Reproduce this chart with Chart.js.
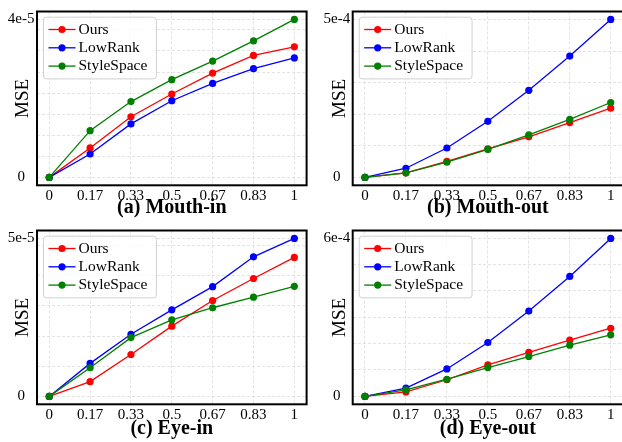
<!DOCTYPE html>
<html>
<head>
<meta charset="utf-8">
<script src="https://cdn.jsdelivr.net/npm/chart.js@4.4.1/dist/chart.umd.min.js"></script>
<style>
  html, body { margin: 0; padding: 0; background: #fff; overflow: hidden; width: 622px; height: 442px; }
  canvas { position: absolute; }
</style>
</head>
<body>
<canvas id="mouthIn" width="311" height="221" style="left:0;top:0"></canvas>
<canvas id="mouthOut" width="316" height="221" style="left:311px;top:0"></canvas>
<canvas id="eyeIn" width="311" height="223" style="left:0;top:219px"></canvas>
<canvas id="eyeOut" width="316" height="223" style="left:311px;top:219px"></canvas>
<script>
// editing strength on the x axis
var weights = ['0', '0.17', '0.33', '0.5', '0.67', '0.83', '1'];
var seriesNames = ['Ours', 'LowRank', 'StyleSpace'];
var seriesColors = ['#ff0000', '#0000ff', '#008000'];

// (a) Mouth-in
var mouthInOurs = [0, 0.70e-5, 1.44e-5, 1.98e-5, 2.475e-5, 2.895e-5, 3.10e-5];
var mouthInLowRank = [0, 0.555e-5, 1.27e-5, 1.82e-5, 2.23e-5, 2.58e-5, 2.835e-5];
var mouthInStyleSpace = [0, 1.11e-5, 1.80e-5, 2.32e-5, 2.76e-5, 3.24e-5, 3.75e-5];

// (b) Mouth-out
var mouthOutOurs = [0, 0.145e-4, 0.51e-4, 0.90e-4, 1.285e-4, 1.735e-4, 2.19e-4];
var mouthOutLowRank = [0, 0.29e-4, 0.93e-4, 1.775e-4, 2.755e-4, 3.84e-4, 5.0e-4];
var mouthOutStyleSpace = [0, 0.145e-4, 0.48e-4, 0.885e-4, 1.345e-4, 1.835e-4, 2.37e-4];

// (c) Eye-in
var eyeInOurs = [0, 0.49e-5, 1.39e-5, 2.33e-5, 3.18e-5, 3.91e-5, 4.61e-5];
var eyeInLowRank = [0, 1.095e-5, 2.06e-5, 2.87e-5, 3.64e-5, 4.63e-5, 5.24e-5];
var eyeInStyleSpace = [0, 0.95e-5, 1.95e-5, 2.54e-5, 2.94e-5, 3.29e-5, 3.65e-5];

// (d) Eye-out
var eyeOutOurs = [0, 0.17e-4, 0.63e-4, 1.19e-4, 1.67e-4, 2.13e-4, 2.58e-4];
var eyeOutLowRank = [0, 0.31e-4, 1.04e-4, 2.04e-4, 3.23e-4, 4.54e-4, 5.98e-4];
var eyeOutStyleSpace = [0, 0.25e-4, 0.65e-4, 1.09e-4, 1.51e-4, 1.94e-4, 2.33e-4];

// spacing of the faint horizontal grid lines
var gridSteps = [5e-6, 1e-4, 1e-5, 1e-4];

Chart.defaults.font.family = '"Liberation Serif", "Times New Roman", serif';
Chart.defaults.color = '#000';

var frameBox = {
    id: 'frameBox',
    afterDraw: function (chart) {
        var a = chart.chartArea, ctx = chart.ctx;
        ctx.save();
        ctx.strokeStyle = '#000';
        ctx.lineWidth = 2;
        ctx.strokeRect(a.left, a.top, a.right - a.left, a.bottom - a.top);
        ctx.restore();
    }
};

var insideLegend = {
    id: 'insideLegend',
    afterDraw: function (chart) {
        var ctx = chart.ctx, a = chart.chartArea;
        var sets = chart.data.datasets;
        ctx.save();
        ctx.font = '15.5px "Liberation Serif"';
        var textW = Math.max.apply(null, sets.map(function (d) { return ctx.measureText(d.label).width; }));
        var x0 = a.left + 6.5, y0 = a.top + 5.7;
        var w = 35 + textW + 9, h = 61.7;
        ctx.beginPath();
        ctx.roundRect(x0, y0, w, h, 3);
        ctx.fillStyle = 'rgba(255,255,255,0.8)';
        ctx.fill();
        ctx.strokeStyle = '#d0d0d0';
        ctx.lineWidth = 1;
        ctx.stroke();
        sets.forEach(function (d, i) {
            var y = y0 + 12.3 + i * 18.3;
            ctx.strokeStyle = d.borderColor;
            ctx.lineWidth = 1.3;
            ctx.beginPath();
            ctx.moveTo(x0 + 5, y);
            ctx.lineTo(x0 + 32, y);
            ctx.stroke();
            ctx.fillStyle = d.borderColor;
            ctx.beginPath();
            ctx.arc(x0 + 18.5, y, 3.6, 0, Math.PI * 2);
            ctx.fill();
            ctx.fillStyle = '#000';
            ctx.textBaseline = 'middle';
            ctx.fillText(d.label, x0 + 35, y);
        });
        ctx.restore();
    }
};

function makeChart(id, title, series, gridStep, box) {
    var canvas = document.getElementById(id);
    var top = Math.max.apply(null, [].concat.apply([], series));
    var chartTop = 9.3, chartBottom = 185.3;

    var datasets = series.map(function (vals, i) {
        return {
            label: seriesNames[i],
            data: vals.map(function (v, j) { return { x: j, y: v }; }),
            borderColor: seriesColors[i],
            backgroundColor: seriesColors[i],
            borderWidth: 1.3,
            pointRadius: 3.6,
            pointBorderWidth: 0,
            tension: 0,
            order: 2 - i
        };
    });

    return new Chart(canvas, {
        type: 'line',
        data: { datasets: datasets },
        plugins: [frameBox, insideLegend],
        options: {
            responsive: false,
            animation: false,
            layout: { padding: { left: 0, top: chartTop, right: box.padRight, bottom: 0 } },
            plugins: { legend: { display: false }, tooltip: { enabled: false } },
            scales: {
                x: {
                    type: 'linear',
                    min: -0.3,
                    max: weights.length - 0.7,
                    afterBuildTicks: function (scale) {
                        scale.ticks = weights.map(function (w, i) { return { value: i }; });
                    },
                    afterFit: function (scale) { scale.height = canvas.height - chartBottom; },
                    ticks: {
                        autoSkip: false,
                        maxRotation: 0,
                        padding: 1.5,
                        font: { size: 15, lineHeight: 1.2 },
                        callback: function (v) { return weights[v]; }
                    },
                    grid: { color: '#dcdcdc', lineWidth: 0.8, drawTicks: false },
                    border: { display: false, dash: [3, 2] },
                    title: {
                        display: true,
                        text: title,
                        font: { size: 20, weight: 'bold', lineHeight: 1.2 },
                        padding: { top: 0, bottom: 1 }
                    }
                },
                y: {
                    min: -0.05 * top,
                    max: 1.05 * top,
                    afterBuildTicks: function (scale) {
                        var t = [];
                        for (var i = 0; i * gridStep < top * 0.999; i++) t.push({ value: i * gridStep });
                        t.push({ value: top });
                        scale.ticks = t;
                    },
                    afterFit: function (scale) { scale.width = box.axisWidth; },
                    ticks: {
                        crossAlign: 'center',
                        padding: box.tickPad,
                        font: { size: 15, lineHeight: 1.2 },
                        callback: function (v) {
                            if (v === 0) return '0';
                            if (v === top) return v.toExponential(0);
                            return '';
                        }
                    },
                    grid: { color: '#dcdcdc', lineWidth: 0.8, drawTicks: false },
                    border: { display: false, dash: [3, 2] },
                    title: {
                        display: true,
                        text: 'MSE',
                        font: { size: 19, lineHeight: 1.2 },
                        padding: { top: box.msePos - 11.4, bottom: 0 }
                    }
                }
            }
        }
    });
}

var leftBox = { axisWidth: 37, padRight: 4.4, tickPad: 2.5, msePos: 23 };
var rightBox = { axisWidth: 41.7, padRight: 3.7, tickPad: 2.5, msePos: 28.8 };

makeChart('mouthIn', '(a) Mouth-in', [mouthInOurs, mouthInLowRank, mouthInStyleSpace], gridSteps[0], leftBox);
makeChart('mouthOut', '(b) Mouth-out', [mouthOutOurs, mouthOutLowRank, mouthOutStyleSpace], gridSteps[1], rightBox);
makeChart('eyeIn', '(c) Eye-in', [eyeInOurs, eyeInLowRank, eyeInStyleSpace], gridSteps[2], leftBox);
makeChart('eyeOut', '(d) Eye-out', [eyeOutOurs, eyeOutLowRank, eyeOutStyleSpace], gridSteps[3], rightBox);
</script>
</body>
</html>
